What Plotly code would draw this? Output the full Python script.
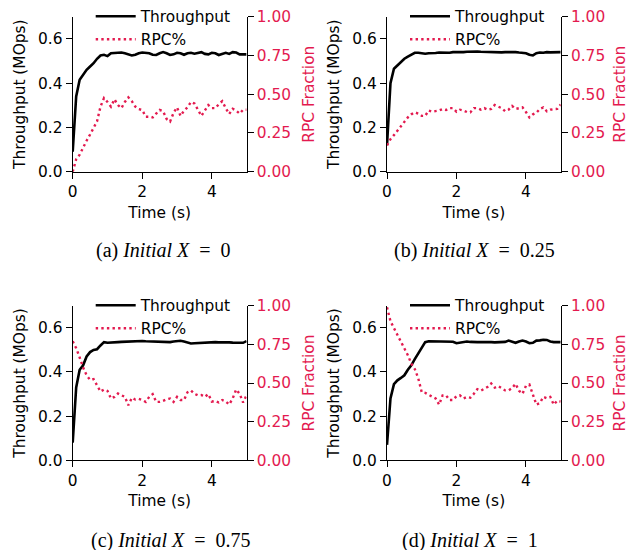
import plotly.graph_objects as go

# ---------------- data ----------------
time_s = [round(0.1 * i, 1) for i in range(51)]

thr_a = [0.09, 0.34, 0.415, 0.44, 0.46, 0.475, 0.49, 0.51, 0.525, 0.528, 0.522,
         0.535, 0.537, 0.537, 0.538, 0.535, 0.53, 0.525, 0.528, 0.535, 0.538,
         0.538, 0.535, 0.528, 0.527, 0.535, 0.54, 0.535, 0.527, 0.53, 0.537,
         0.535, 0.528, 0.535, 0.537, 0.533, 0.535, 0.54, 0.532, 0.53, 0.537,
         0.535, 0.527, 0.532, 0.537, 0.532, 0.54, 0.538, 0.53, 0.53, 0.53]
rpc_a = [0.0, 0.08, 0.11, 0.16, 0.2, 0.24, 0.285, 0.325, 0.42, 0.475, 0.45,
         0.42, 0.467, 0.43, 0.41, 0.45, 0.48, 0.455, 0.42, 0.404, 0.398,
         0.355, 0.355, 0.35, 0.375, 0.398, 0.39, 0.34, 0.323, 0.38, 0.415,
         0.36, 0.394, 0.415, 0.45, 0.44, 0.40, 0.36, 0.394, 0.43, 0.41,
         0.41, 0.435, 0.455, 0.41, 0.372, 0.406, 0.394, 0.375, 0.40, 0.40]

thr_b = [0.12, 0.40, 0.465, 0.48, 0.495, 0.51, 0.52, 0.53, 0.537, 0.537, 0.535,
         0.533, 0.535, 0.534, 0.536, 0.538, 0.537, 0.539, 0.537, 0.54, 0.539,
         0.541, 0.54, 0.542, 0.543, 0.542, 0.543, 0.542, 0.541, 0.54, 0.539,
         0.538, 0.54, 0.539, 0.54, 0.541, 0.541, 0.54, 0.538, 0.537, 0.535,
         0.528, 0.525, 0.535, 0.538, 0.537, 0.54, 0.539, 0.54, 0.541, 0.54]
rpc_b = [0.17, 0.21, 0.236, 0.265, 0.29, 0.32, 0.35, 0.37, 0.383, 0.375, 0.36,
         0.36, 0.395, 0.387, 0.39, 0.395, 0.404, 0.398, 0.41, 0.41, 0.387,
         0.40, 0.395, 0.385, 0.383, 0.41, 0.41, 0.40, 0.41, 0.40, 0.405,
         0.43, 0.42, 0.41, 0.39, 0.40, 0.424, 0.405, 0.41, 0.415, 0.385,
         0.35, 0.37, 0.38, 0.405, 0.415, 0.39, 0.40, 0.404, 0.405, 0.434]

thr_c = [0.08, 0.33, 0.41, 0.43, 0.47, 0.49, 0.50, 0.503, 0.52, 0.535, 0.532,
         0.534, 0.533, 0.535, 0.536, 0.537, 0.538, 0.54, 0.541, 0.54, 0.54,
         0.539, 0.538, 0.539, 0.537, 0.536, 0.536, 0.535, 0.535, 0.538, 0.54,
         0.541, 0.538, 0.533, 0.529, 0.53, 0.531, 0.533, 0.533, 0.534, 0.534,
         0.535, 0.534, 0.535, 0.535, 0.534, 0.533, 0.533, 0.531, 0.532, 0.54]
rpc_c = [0.77, 0.725, 0.665, 0.60, 0.55, 0.52, 0.525, 0.48, 0.445, 0.458, 0.449,
         0.40, 0.41, 0.432, 0.421, 0.41, 0.356, 0.404, 0.393, 0.398, 0.39,
         0.378, 0.41, 0.428, 0.378, 0.378, 0.384, 0.395, 0.40, 0.378, 0.41,
         0.39, 0.39, 0.44, 0.452, 0.43, 0.42, 0.422, 0.41, 0.428, 0.38,
         0.384, 0.374, 0.39, 0.38, 0.361, 0.40, 0.458, 0.43, 0.374, 0.421]

thr_d = [0.07, 0.28, 0.345, 0.362, 0.373, 0.385, 0.41, 0.43, 0.458, 0.485, 0.51,
         0.535, 0.539, 0.539, 0.539, 0.538, 0.539, 0.538, 0.537, 0.537, 0.53,
         0.533, 0.537, 0.538, 0.536, 0.537, 0.535, 0.535, 0.536, 0.535, 0.535,
         0.534, 0.535, 0.536, 0.536, 0.542, 0.536, 0.532, 0.538, 0.542, 0.538,
         0.53, 0.532, 0.542, 0.543, 0.546, 0.545, 0.538, 0.535, 0.535, 0.535]
rpc_d = [0.99, 0.90, 0.855, 0.81, 0.77, 0.73, 0.68, 0.625, 0.59, 0.53, 0.44,
         0.436, 0.425, 0.41, 0.40, 0.36, 0.42, 0.42, 0.39, 0.39, 0.415,
         0.42, 0.40, 0.41, 0.405, 0.43, 0.46, 0.45, 0.46, 0.475, 0.497,
         0.47, 0.48, 0.465, 0.452, 0.452, 0.467, 0.495, 0.45, 0.43, 0.482,
         0.49, 0.42, 0.36, 0.37, 0.41, 0.402, 0.41, 0.36, 0.385, 0.38]

captions = ["(a) <i>Initial X</i>  =  0", "(b) <i>Initial X</i>  =  0.25",
            "(c) <i>Initial X</i>  =  0.75", "(d) <i>Initial X</i>  =  1"]
thr_ticks = [0.0, 0.2, 0.4, 0.6]
rpc_ticks = [0.0, 0.25, 0.5, 0.75, 1.0]
time_ticks = [0, 2, 4]

# ---------------- style ----------------
W, H = 629, 550
RED = "#e31a4f"
FONT = "DejaVu Sans"
FS = 15.4
panels = [thr_a, thr_b, thr_c, thr_d]
rpcs = [rpc_a, rpc_b, rpc_c, rpc_d]

col_px = [(72.7, 246.6), (387.0, 560.7)]
row_px = [(16.7, 171.7), (305.7, 460.3)]
cap_pos = [(163, 250), (474, 250), (171, 540), (470, 540)]

def px2x(p):
    return p / W

def px2y(p):
    return 1 - p / H

fig = go.Figure()
layout = dict(template="none", width=W, height=H,
              margin=dict(l=0, r=0, t=0, b=0, autoexpand=False),
              plot_bgcolor="white", paper_bgcolor="white",
              font=dict(family=FONT, size=FS, color="black"),
              showlegend=True, annotations=[])

for i in range(4):
    r, c = divmod(i, 2)
    xn = "" if i == 0 else str(i + 1)
    yl = "" if i == 0 else str(2 * i + 1)
    yr = str(2 * i + 2)
    lg = "legend" if i == 0 else "legend%d" % (i + 1)
    fig.add_trace(go.Scatter(x=time_s, y=panels[i], mode="lines", name="Throughput",
                             line=dict(color="black", width=2.6),
                             xaxis="x" + xn, yaxis="y" + yl, legend=lg))
    fig.add_trace(go.Scatter(x=time_s, y=rpcs[i], mode="lines", name="RPC%",
                             line=dict(color=RED, width=2.4, dash="2.4px,3.2px"),
                             xaxis="x" + xn, yaxis="y" + yr, legend=lg))
    x0, x1 = col_px[c]
    y0, y1 = row_px[r]
    xdom = [px2x(x0), px2x(x1)]
    ydom = [px2y(y1), px2y(y0)]
    axis_common = dict(showline=True, linecolor="black", linewidth=1.3,
                       ticks="outside", ticklen=6, tickwidth=1.3, tickcolor="black",
                       showgrid=False, zeroline=False, automargin=False,
                       tickfont=dict(family=FONT, size=FS, color="black"))
    layout["xaxis" + xn] = dict(domain=xdom, anchor="y" + yl, range=[0, 5],
                                tickvals=time_ticks, ticktext=[str(t) for t in time_ticks],
                                title=dict(text="Time (s)", standoff=6,
                                           font=dict(family=FONT, size=FS, color="black")),
                                **axis_common)
    layout["yaxis" + yl] = dict(domain=ydom, anchor="x" + xn, range=[0, 0.7],
                                tickvals=thr_ticks, tickformat=".1f",
                                title=dict(text="Throughput (MOps)", standoff=8,
                                           font=dict(family=FONT, size=FS, color="black")),
                                **axis_common)
    right_common = dict(axis_common)
    right_common["tickfont"] = dict(family=FONT, size=FS, color=RED)
    layout["yaxis" + yr] = dict(domain=ydom, anchor="x" + xn, overlaying="y" + yl,
                                side="right", range=[0, 1.0],
                                tickvals=rpc_ticks, tickformat=".2f",
                                title=dict(text="RPC Fraction", standoff=13,
                                           font=dict(family=FONT, size=FS, color=RED)),
                                **right_common)
    layout[lg] = dict(x=px2x(x0 + 18), y=px2y(y0 - 17), xanchor="left", yanchor="top",
                      bgcolor="rgba(0,0,0,0)", font=dict(size=FS, family=FONT),
                      tracegroupgap=0, itemwidth=40)
    cx, cy = cap_pos[i]
    layout["annotations"].append(dict(text=captions[i], x=px2x(cx), y=px2y(cy),
                                      xref="paper", yref="paper", showarrow=False,
                                      xanchor="center", yanchor="middle",
                                      font=dict(family="Liberation Serif", size=20,
                                                color="black")))

fig.update_layout(**layout)
fig.write_html("out.html", config={"displayModeBar": False},
               post_script="document.body.style.margin='0';document.body.style.overflow='hidden';")
